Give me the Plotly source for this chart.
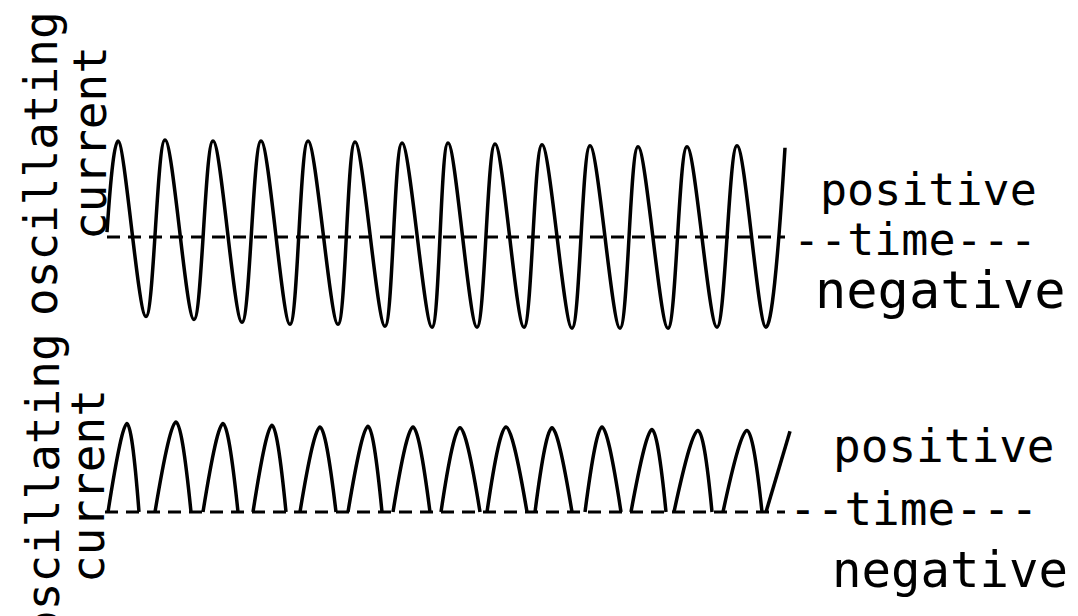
import plotly.graph_objects as go

W, H = 1078, 616

# alternating current (top): turning points
top_peak_t = [118, 165, 213, 261, 308, 355, 402, 448, 495, 542, 590, 638, 687, 737]
top_peak_i = [0.99, 1.0, 0.99, 0.99, 0.99, 0.98, 0.97, 0.97, 0.96, 0.95, 0.94, 0.93, 0.93, 0.94]
top_trough_t = [146, 194, 242, 290, 338, 385, 432, 477, 524, 572, 620, 668, 717, 766]
top_trough_i = [-0.82, -0.85, -0.88, -0.9, -0.9, -0.92, -0.93, -0.93, -0.93, -0.94, -0.94, -0.94, -0.93, -0.93]
top_ends_t = [107, 785]
top_ends_i = [0.05, 0.92]

# rectified current (bottom): one arch per half cycle
bot_rise_t = [108, 155, 203, 253, 300, 348, 393, 441, 487, 535, 585, 631, 674, 723]
bot_peak_t = [127, 176, 223, 272, 320, 368, 413, 460, 506, 552, 602, 652, 698, 747]
bot_fall_t = [139, 191, 238, 286, 336, 382, 430, 480, 527, 572, 621, 666, 712, 762]
bot_peak_i = [1.04, 1.06, 1.04, 1.02, 1.0, 1.01, 1.0, 0.99, 1.0, 0.99, 1.0, 0.97, 0.96, 0.96]
bot_last_t = [766, 790]
bot_last_i = [0.0, 0.95]

# time axis (dashed zero line) extent
top_axis_t = [107, 785]
bot_axis_t = [105, 785]

side_labels = ["oscillating", "current"]
right_labels = ["positive", "--time---", "negative"]

FONT = "DejaVu Sans Mono"


def px(x):
    return x / W


def py(y):
    return 1 - y / H


# top wave: start, alternate peaks / troughs, end
tx, ty = [top_ends_t[0]], [top_ends_i[0]]
for a, b, c, d in zip(top_peak_t, top_peak_i, top_trough_t, top_trough_i):
    tx += [a, c]
    ty += [b, d]
tx.append(top_ends_t[1])
ty.append(top_ends_i[1])

# bottom wave: separate arches
bx, by = [], []
for r, p, f, h in zip(bot_rise_t, bot_peak_t, bot_fall_t, bot_peak_i):
    bx += [r, p, f, None]
    by += [0, h, 0, None]
bx += bot_last_t
by += bot_last_i

fig = go.Figure()

fig.add_trace(go.Scatter(x=top_axis_t, y=[0, 0], mode="lines",
                         line=dict(color="black", width=3, dash="13px,8px"),
                         xaxis="x", yaxis="y", hoverinfo="skip"))
fig.add_trace(go.Scatter(x=tx, y=ty, mode="lines",
                         line=dict(color="black", width=3.5, shape="spline", smoothing=1.0),
                         xaxis="x", yaxis="y"))

fig.add_trace(go.Scatter(x=bot_axis_t, y=[0, 0], mode="lines",
                         line=dict(color="black", width=3, dash="13px,8px"),
                         xaxis="x", yaxis="y2", hoverinfo="skip"))
fig.add_trace(go.Scatter(x=bx, y=by, mode="lines",
                         line=dict(color="black", width=3.5, shape="spline", smoothing=1.0),
                         xaxis="x", yaxis="y2"))

# y domains: baseline pixel and pixels per unit of current
top_base, top_scale, top_rng = 237, 97, [-1.3, 1.3]
bot_base, bot_scale, bot_rng = 512, 85, [-0.3, 1.3]
top_dom = [py(top_base - top_rng[0] * top_scale), py(top_base - top_rng[1] * top_scale)]
bot_dom = [py(bot_base - bot_rng[0] * bot_scale), py(bot_base - bot_rng[1] * bot_scale)]

ann = []
# rotated labels on the left: (baseline x, centre y)
left_pos = [
    [(56, 164), (105, 143)],
    [(58, 486), (103, 486)],
]
for block in left_pos:
    for txt, (bxl, cy) in zip(side_labels, block):
        ann.append(dict(x=px(bxl - 15), y=py(cy), xref="paper", yref="paper",
                        text=txt, textangle=-90,
                        xanchor="center", yanchor="middle", showarrow=False,
                        font=dict(family=FONT, size=46, color="black")))

# right labels: (left x, baseline y, size)
right_pos = [
    [(818, 205, 45), (791, 255, 45), (813, 308, 52)],
    [(831, 462, 46), (787, 525, 46), (830, 587, 49)],
]
for block in right_pos:
    for txt, (lx, by_, sz) in zip(right_labels, block):
        ann.append(dict(x=px(lx), y=py(by_ - 0.346 * sz), xref="paper", yref="paper",
                        text=txt, xanchor="left", yanchor="middle", showarrow=False,
                        font=dict(family=FONT, size=sz, color="black")))

fig.update_layout(
    width=W, height=H,
    margin=dict(l=0, r=0, t=0, b=0),
    paper_bgcolor="white", plot_bgcolor="white",
    showlegend=False,
    xaxis=dict(range=[0, W], domain=[0, 1], visible=False, fixedrange=True),
    yaxis=dict(range=top_rng, domain=top_dom, visible=False, fixedrange=True),
    yaxis2=dict(range=bot_rng, domain=bot_dom, visible=False, fixedrange=True, anchor="x"),
    annotations=ann,
)

# page body has a default 8px margin; remove it so the figure fills the window
fig.write_html("out.html", config={"displayModeBar": False},
               post_script="document.body.style.margin='0';")
